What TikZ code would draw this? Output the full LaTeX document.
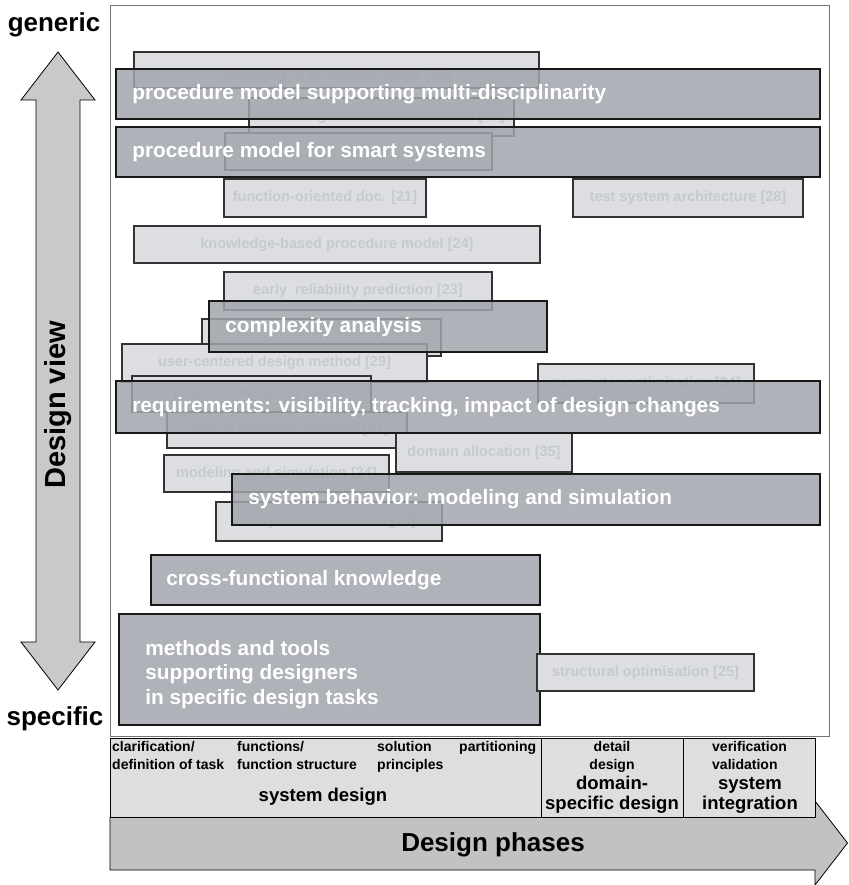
\documentclass[tikz,border=0pt]{standalone}
\usepackage{fontspec}
\setmainfont{Liberation Sans}
\begin{document}
\definecolor{darkfill}{HTML}{A1A5AC}
\definecolor{lightfill}{HTML}{DCDEE2}
\definecolor{lighttext}{HTML}{C6C9CE}
\definecolor{tablefill}{HTML}{DEDEDE}
\definecolor{arrowfill}{HTML}{C2C2C2}
\definecolor{varrowfill}{HTML}{C9C9C9}
\begin{tikzpicture}[x=1pt,y=-1pt,
  lightbox/.style={rectangle,inner sep=0pt,draw=black!80,line width=1.1pt,fill=lightfill,
    text=lighttext,font=\fontsize{14.5}{17}\selectfont\bfseries},
  lighttxt/.style={inner sep=0pt,text=lighttext,font=\fontsize{14.5}{17}\selectfont\bfseries},
  darkbox/.style={rectangle,inner sep=0pt,draw=black!90,line width=1.8pt,fill=darkfill,fill opacity=0.85,text opacity=1},
  darktext/.style={inner sep=0pt,anchor=west,text=white,font=\fontsize{20.8}{24.5}\selectfont\bfseries,align=left},
  celltext/.style={inner sep=0pt,font=\fontsize{14}{18}\selectfont\bfseries},
  bigcell/.style={inner sep=0pt,font=\fontsize{18.5}{20}\selectfont\bfseries,align=center},
  cellbox/.style={rectangle,inner sep=0pt,draw=black,line width=0.8pt,fill=tablefill,anchor=north west}]
\useasboundingbox (0,0) rectangle (848,885);
% frame
\node[rectangle,inner sep=0pt,draw=black!55,line width=0.8pt,fill=white,anchor=north west,minimum width=719pt,minimum height=731pt] (frame) at (110,5) {};
% light boxes
\node[lightbox,minimum width=405pt,minimum height=36pt] (a) at (336.5,70) {};
\node[lighttxt] (at) at ([yshift=-6pt]a.center) {modeling of procedure steps [26]};
\node[lightbox,minimum width=265pt,minimum height=38pt] (b) at (381.5,117) {validating technical documents [27]};
\node[lightbox,minimum width=267pt,minimum height=37pt] (c) at (358.5,151.5) {};
\node[lightbox,minimum width=202pt,minimum height=38pt] (d) at (325,198) {function-oriented doc. [21]};
\node[lightbox,minimum width=230pt,minimum height=38pt] (e) at (688,198) {test system architecture [28]};
\node[lightbox,minimum width=406pt,minimum height=37pt] (f) at (337,244.5) {knowledge-based procedure model [24]};
\node[lightbox,minimum width=268pt,minimum height=38pt] (g) at (358,291) {early\ \ reliability prediction [23]};
\node[lightbox,minimum width=239pt,minimum height=37pt] (h) at (321.5,337.5) {};
\node[lightbox,minimum width=305pt,minimum height=38pt] (i) at (274.5,363) {user-centered design method [29]};
\node[lightbox,minimum width=239pt,minimum height=36pt] (j) at (251.5,394) {physical modeling [30]};
\node[lightbox,minimum width=216pt,minimum height=39pt] (m) at (646,383.5) {parameter optimization [34]};
\node[lightbox,minimum width=240pt,minimum height=36pt] (k) at (287,430) {cost of function modules [31]};
\node[lightbox,minimum width=176pt,minimum height=39pt] (l) at (484,452.5) {domain allocation [35]};
\node[lightbox,minimum width=225pt,minimum height=37pt] (n) at (276.5,473.5) {modeling and simulation [34]};
\node[lightbox,minimum width=226pt,minimum height=39pt] (o) at (329,521.5) {early cost estimation [33]};
% dark boxes
\node[darkbox,minimum width=704pt,minimum height=50pt] (D1) at (468,94) {};
\node[darktext] (T1) at ([xshift=17pt]D1.west) {procedure model supporting multi-disciplinarity};
\node[darkbox,minimum width=704pt,minimum height=50pt] (D2) at (468,152) {};
\node[darktext] (T2) at ([xshift=17pt]D2.west) {procedure model for smart systems};
\node[darkbox,minimum width=338pt,minimum height=51pt] (D3) at (378,326.5) {};
\node[darktext] (T3) at ([xshift=17pt,yshift=-1pt]D3.west) {complexity analysis};
\node[darkbox,minimum width=704pt,minimum height=52pt] (D4) at (468,407) {};
\node[darktext] (T4) at ([xshift=17pt]D4.west) {requirements: visibility, tracking, impact of design changes};
\node[darkbox,minimum width=588pt,minimum height=51pt] (D5) at (526,499.5) {};
\node[darktext] (T5) at ([xshift=17pt]D5.west) {system behavior: modeling and simulation};
\node[darkbox,minimum width=389pt,minimum height=50pt] (D6) at (345.5,580) {};
\node[darktext] (T6) at ([xshift=16pt]D6.west) {cross-functional knowledge};
\node[darkbox,minimum width=421pt,minimum height=111pt] (D7) at (329.5,669.5) {};
\node[darktext] (T7) at ([xshift=27pt,yshift=-5pt]D7.west) {methods and tools\\supporting designers\\in specific design tasks};
\node[lightbox,minimum width=217pt,minimum height=37pt] (p) at (645.5,672.5) {structural optimisation [25]};
% vertical arrow
\draw[black,line width=0.8pt,fill=varrowfill] (58,52) -- (95,100) -- (80,100) -- (80,642) -- (95,642) -- (58,690) -- (21,642) -- (36,642) -- (36,100) -- (21,100) -- cycle;
\node[rotate=90,inner sep=0pt,font=\fontsize{29}{32}\selectfont\bfseries] (dv) at (58,405) {Design view};
\node[inner sep=0pt,font=\fontsize{26}{30}\selectfont\bfseries] (gen) at (54,25) {generic};
\node[inner sep=0pt,font=\fontsize{26}{30}\selectfont\bfseries] (spec) at (55,719) {specific};
% horizontal arrow
\draw[black,line width=0.8pt,fill=arrowfill] (110,817) -- (815,817) -- (815,801) -- (847.5,843) -- (815,885) -- (815,870) -- (110,870) -- cycle;
\node[inner sep=0pt,font=\fontsize{26}{30}\selectfont\bfseries] (dp) at (493,845) {Design phases};
% table
\node[cellbox,minimum width=431pt,minimum height=79pt] (c1) at (110,738) {};
\node[cellbox,minimum width=142pt,minimum height=79pt] (c2) at (541,738) {};
\node[cellbox,minimum width=132pt,minimum height=79pt] (c3) at (683,738) {};
\node[celltext,anchor=north west,align=left] (l1) at (112,741) {clarification/\\definition of task};
\node[celltext,anchor=north west,align=left] (l2) at (237,741) {functions/\\function structure};
\node[celltext,anchor=north west,align=left] (l3) at (377,741) {solution\\principles};
\node[celltext,anchor=north west,align=left] (l4) at (459,741) {partitioning};
\node[bigcell] (sd) at (323,797) {system design};
\node[celltext,anchor=north,align=center] (l5) at (612,741) {detail\\design};
\node[bigcell] (dsd) at (612,795) {domain-\\specific design};
\node[celltext,anchor=north west,align=left] (l6) at (712,741) {verification\\validation};
\node[bigcell] (si) at (750,795) {system\\integration};
\end{tikzpicture}
\end{document}
